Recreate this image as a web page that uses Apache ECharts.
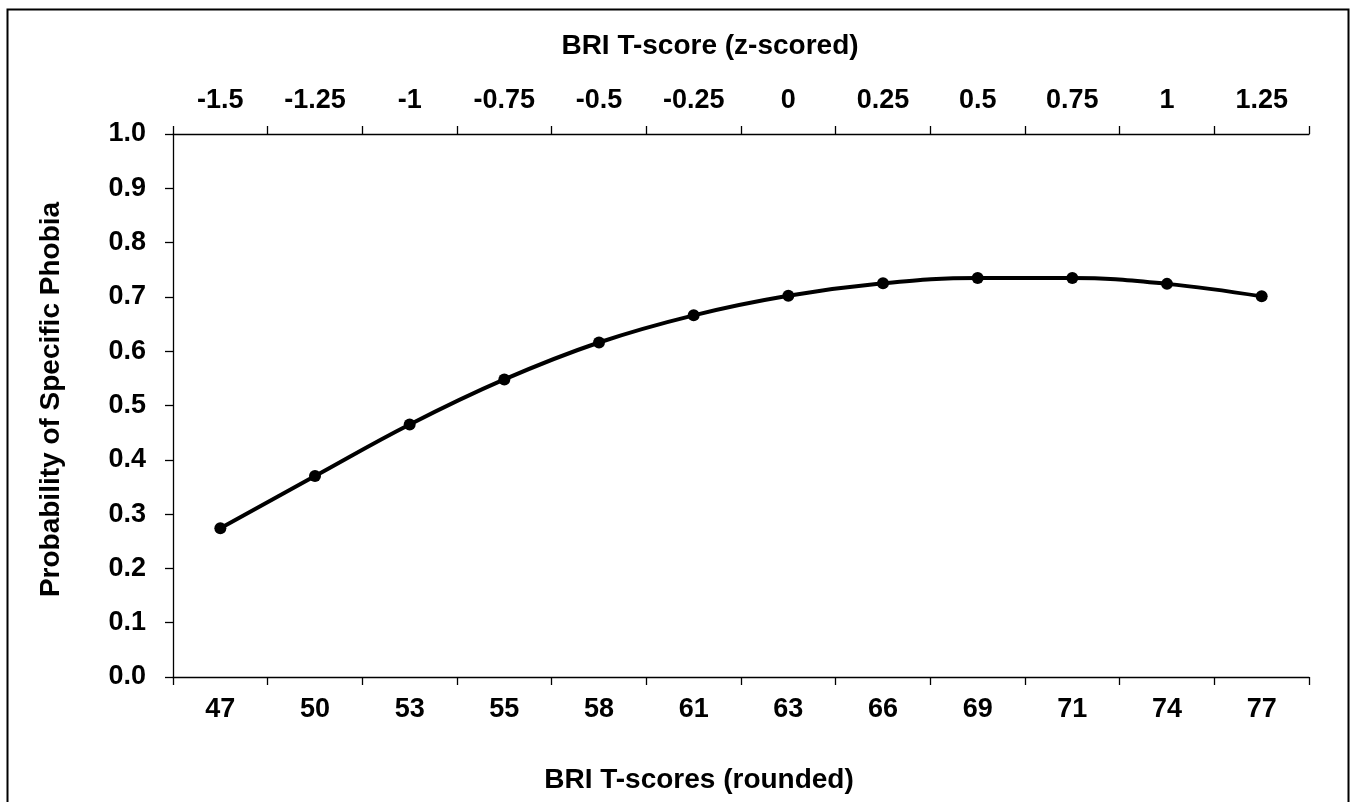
<!DOCTYPE html>
<html>
<head>
<meta charset="utf-8">
<script src="https://cdn.jsdelivr.net/npm/echarts@6/dist/echarts.min.js"></script>
<style>
  html, body { margin: 0; padding: 0; background: #fff; }
  #main { width: 1355px; height: 802px; }
</style>
</head>
<body>
<div id="main"></div>
<script>
// bottom axis: BRI T-scores (rounded)
const tScores = ['47', '50', '53', '55', '58', '61', '63', '66', '69', '71', '74', '77']
// top axis: same points, z-scored
const zScores = ['-1.5', '-1.25', '-1', '-0.75', '-0.5', '-0.25', '0', '0.25', '0.5', '0.75', '1', '1.25']
// probability
const probability = [0.274, 0.370, 0.465, 0.548, 0.616, 0.666, 0.702, 0.725, 0.735, 0.735, 0.724, 0.701]

const font = 'Liberation Sans, Arial, sans-serif'
const txt = { color: '#000', fontFamily: font, fontWeight: 'bold', fontSize: 27 }
const title = { color: '#000', fontFamily: font, fontWeight: 'bold', fontSize: 28 }
const axisLine = { show: true, lineStyle: { color: '#000', width: 1.3 } }
const axisTick = { show: true, length: 8, lineStyle: { color: '#000', width: 1.3 } }

let chart = echarts.init(document.getElementById('main'))

let option = {
    backgroundColor: '#fff',
    animation: false,
    grid: { left: 173, right: 46, top: 134, bottom: 125, containLabel: false },
    graphic: [{
        // outer frame, the bottom edge runs off the picture
        type: 'rect',
        shape: { x: 7.5, y: 9.5, width: 1341, height: 900 },
        style: { fill: 'none', stroke: '#000', lineWidth: 2 },
        silent: true
    }],
    xAxis: [
        {
            type: 'category',
            position: 'bottom',
            data: tScores,
            boundaryGap: true,
            axisLine: axisLine,
            axisTick: axisTick,
            axisLabel: Object.assign({ margin: 19 }, txt),
            splitLine: { show: false },
            name: 'BRI T-scores (rounded)',
            nameLocation: 'middle',
            nameGap: 89,
            nameTextStyle: Object.assign({ padding: [0, 84, 0, 0] }, title)
        },
        {
            type: 'category',
            position: 'top',
            data: zScores,
            boundaryGap: true,
            axisLine: axisLine,
            axisTick: axisTick,
            axisLabel: Object.assign({ margin: 20 }, txt),
            splitLine: { show: false },
            name: 'BRI T-score (z-scored)',
            nameLocation: 'middle',
            nameGap: 74,
            nameTextStyle: Object.assign({ padding: [0, 62, 0, 0] }, title)
        }
    ],
    yAxis: {
        type: 'value',
        min: 0,
        max: 1,
        interval: 0.1,
        axisLine: axisLine,
        axisTick: axisTick,
        axisLabel: Object.assign({
            margin: 27,
            formatter: function (v) { return v.toFixed(1) }
        }, txt),
        splitLine: { show: false },
        name: 'Probability of Specific Phobia',
        nameLocation: 'middle',
        nameGap: 108,
        nameTextStyle: Object.assign({ padding: [0, 0, 0, 12] }, title)
    },
    series: [{
        type: 'line',
        xAxisIndex: 0,
        data: probability,
        smooth: 0.4,
        symbol: 'circle',
        symbolSize: 12,
        lineStyle: { color: '#000', width: 4 },
        itemStyle: { color: '#000' }
    }]
}

chart.setOption(option)
</script>
</body>
</html>
